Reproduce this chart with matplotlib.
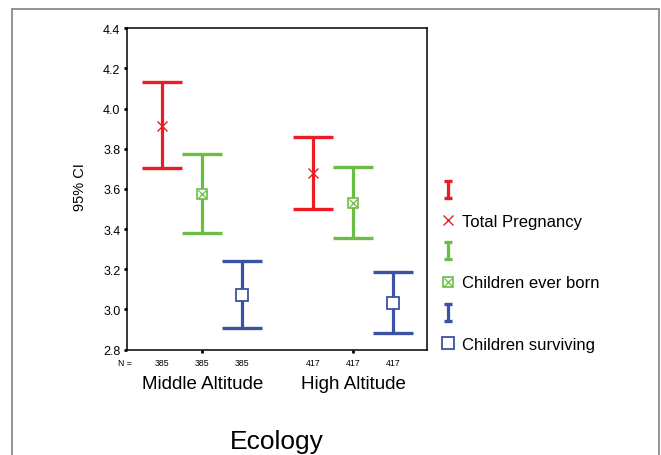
import numpy as np
import matplotlib
matplotlib.use('Agg')
from matplotlib import pyplot as plt
from matplotlib.container import ErrorbarContainer
from matplotlib.legend_handler import HandlerErrorbar, HandlerTuple
from matplotlib.lines import Line2D
from matplotlib.patches import Rectangle

plt.rcParams['font.family'] = ['Liberation Sans', 'DejaVu Sans']

groups = ['Middle Altitude', 'High Altitude']
series = ['Total Pregnancy', 'Children ever born', 'Children surviving']
n_counts = [[385, 385, 385], [417, 417, 417]]

# mean, lower and upper 95% CI per series, one value per group
means = {
    'Total Pregnancy': [3.912, 3.678],
    'Children ever born': [3.575, 3.532],
    'Children surviving': [3.072, 3.032],
}
lower = {
    'Total Pregnancy': [3.702, 3.500],
    'Children ever born': [3.382, 3.358],
    'Children surviving': [2.907, 2.882],
}
upper = {
    'Total Pregnancy': [4.133, 3.860],
    'Children ever born': [3.775, 3.710],
    'Children surviving': [3.243, 3.185],
}
yticks = [2.8, 3.0, 3.2, 3.4, 3.6, 3.8, 4.0, 4.2, 4.4]

colors = ['#ED1C24', '#6CBD45', '#3A53A4']
offsets = [-0.266, 0.0, 0.266]


class SmallCapHandler(HandlerErrorbar):
    # legend "I" symbol: same bar, narrow caps
    def create_artists(self, *args, **kwargs):
        artists = super().create_artists(*args, **kwargs)
        for a in artists:
            if isinstance(a, Line2D) and a.get_marker() == '_':
                a.set_markersize(5.5)
                a.set_markeredgewidth(2.4)
        return artists


fig = plt.figure(figsize=(6.61, 4.56), dpi=100)
fig.patches.append(Rectangle((0.0174, -0.1), 0.98, 1.078, transform=fig.transFigure,
                             fill=False, edgecolor='#808080', linewidth=1.2))
ax = fig.add_axes([0.1917, 0.231, 0.4545, 0.705])

centers = np.arange(1, len(groups) + 1)
handles = []
labels = []
for i, name in enumerate(series):
    x = centers + offsets[i]
    m = np.array(means[name])
    lo = np.array(lower[name])
    hi = np.array(upper[name])
    eb = ax.errorbar(x, m, yerr=[m - lo, hi - m], fmt='none', ecolor=colors[i],
                     elinewidth=2.3, capsize=14.6, capthick=2.4)
    if i == 0:
        mk = ax.plot(x, m, ls='none', marker='x', ms=7, mew=1.0, color=colors[i])[0]
    elif i == 1:
        sq = ax.plot(x, m, ls='none', marker='s', ms=7, mew=1.2, mfc='white', mec=colors[i])[0]
        cr = ax.plot(x, m, ls='none', marker='x', ms=5.5, mew=0.9, color=colors[i])[0]
        mk = (sq, cr)
    else:
        mk = ax.plot(x, m, ls='none', marker='s', ms=8, mew=1.3, mfc='white',
                     mec=colors[i])[0]
    handles += [eb, mk]
    labels += [' ', name]

    for xi, n in zip(x, [row[i] for row in n_counts]):
        ax.annotate(str(n), (xi, 0), xycoords=ax.get_xaxis_transform(),
                    xytext=(0, -9), textcoords='offset points',
                    ha='center', va='center', fontsize=6.3)

ax.annotate('N =', (0, 0), xycoords='axes fraction', xytext=(-1, -9),
            textcoords='offset points', ha='center', va='center', fontsize=6.3)

ax.set_xlim(0.5, 2.49)
ax.set_ylim(2.8, 4.4)
ax.set_yticks(yticks)
ax.set_yticklabels(['%.1f' % v for v in yticks], fontsize=9)
ax.set_xticks(centers)
ax.set_xticklabels(groups, fontsize=13.5)
ax.tick_params(axis='y', direction='out', length=2.5, width=2, pad=2)
ax.tick_params(axis='x', direction='out', length=2.5, width=2, pad=16)
for s in ax.spines.values():
    s.set_linewidth(1.1)

ax.set_ylabel('95% CI', fontsize=10.5, va='center')
ax.yaxis.set_label_coords(-0.155, 0.51)
ax.set_xlabel('Ecology', fontsize=19, va='center')
ax.xaxis.set_label_coords(0.5, -0.285)

fig.legend(handles, labels, loc='upper left', bbox_to_anchor=(440 / 661, 1 - 184 / 456),
           frameon=False, fontsize=12, handlelength=1.0, handletextpad=0.3,
           labelspacing=0.95, borderpad=0, borderaxespad=0,
           handler_map={ErrorbarContainer: SmallCapHandler(),
                        tuple: HandlerTuple(ndivide=1, pad=0)})

fig.savefig('out.png', dpi=100)
